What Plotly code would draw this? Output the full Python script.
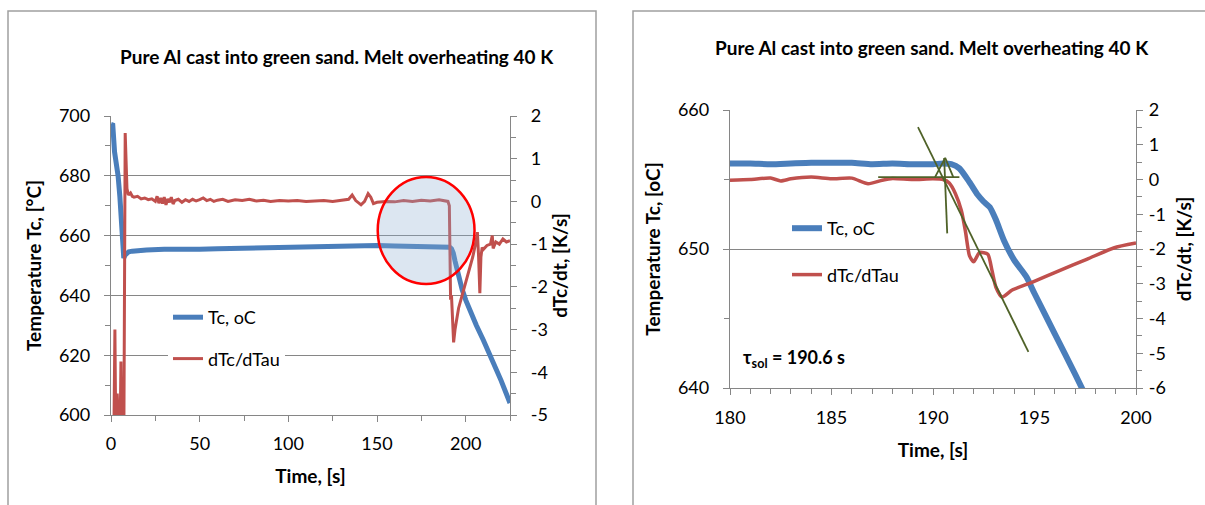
import plotly.graph_objects as go

W, H = 1205, 505

# ---------------- data: left chart (full cooling curve) ----------------
time_tc_full = [0, 1, 2, 3, 4, 5, 6, 6.6, 7.2, 8, 9, 10, 12, 15, 20, 30, 40, 50, 60, 80, 100,
                120, 140, 150, 160, 170, 180, 188, 190, 191, 192, 193, 194, 195, 196, 198,
                200, 203, 206, 210, 215, 220, 225]
tc_full = [697.2, 697.0, 688, 684, 680, 673, 664, 656, 652.5, 653.5, 654.3, 654.6, 654.8, 655.0,
           655.2, 655.4, 655.3, 655.4, 655.6, 655.9, 656.1, 656.3, 656.5, 656.7, 656.5, 656.4,
           656.3, 656.2, 656.2, 656.1, 655.6, 654.2, 651.5, 648.8, 646.2, 642.0, 638.5, 634.0,
           630.0, 625.0, 618.5, 611.5, 604.0]

time_rate_full = [0.5, 1.5, 2.2, 2.8, 3.5, 4.0, 5.0, 5.6, 6.2, 7.2, 8.0, 9.0, 9.8, 11, 12, 13, 15,
                  17, 19, 21, 23, 25, 26, 27, 28, 29, 30, 31, 32, 33, 34, 35, 36, 38, 40, 42, 44,
                  46, 48, 50, 52, 54, 56, 58, 60, 63, 66, 70, 74, 78, 82, 86, 90, 95, 100, 105,
                  110, 115, 120, 125, 130, 134, 136, 138, 141, 143, 145, 146.5, 148, 150, 155,
                  160, 165, 170, 175, 180, 185, 188, 190, 190.8, 191.2, 191.5, 192, 192.6, 193.2,
                  194, 196, 198, 200, 202, 204, 206, 206.6, 207.3, 208.0, 208.6, 209.3, 210, 212,
                  214, 215, 215.5, 217, 219, 221, 223, 225]
rate_full = [-6, -6, -3.0, -6, -4.5, -6, -6, -3.75, -6, -6, 1.6, 0.3, 0.15, 0.2, 0.12, 0.1, 0.12,
             0.06, 0.08, 0.04, 0.06, 0.0, 0.12, -0.04, 0.08, -0.05, 0.1, -0.08, 0.06, -0.02, 0.1,
             -0.06, 0.02, 0.05, -0.02, 0.04, 0.0, 0.05, 0.01, 0.04, 0.08, 0.02, 0.05, 0.0, 0.03,
             0.05, 0.0, 0.04, 0.02, 0.05, 0.01, 0.03, 0.0, 0.02, 0.01, 0.02, 0.0, 0.01, 0.02, 0.0,
             0.02, 0.05, 0.15, 0.02, -0.08, 0.0, 0.18, 0.1, -0.05, -0.02, 0.0, -0.01, 0.02, 0.0,
             0.03, 0.01, 0.04, 0.02, 0.0, -0.1, -1.5, -2.3, -2.2, -2.8, -3.3, -3.0, -2.5, -2.2,
             -1.9, -1.6, -1.3, -0.9, -0.72, -1.3, -2.15, -1.3, -1.08, -1.12, -1.03, -1.0, -0.8,
             -1.1, -0.95, -1.0, -0.88, -0.95, -0.92]

# ---------------- data: right chart (zoom 180-200 s) ----------------
time_tc_zoom = [180, 181, 182, 183, 184, 185, 186, 187, 188, 189, 190, 190.5, 190.9, 191.3, 191.8,
                192.2, 192.5, 192.8, 193.1, 193.5, 194.0, 194.6, 195.0, 196.0, 197.0, 197.6]
tc_zoom = [656.15, 656.15, 656.1, 656.15, 656.2, 656.2, 656.2, 656.1, 656.15, 656.1, 656.1,
           656.15, 656.1, 655.8, 654.8, 653.9, 653.4, 653.0, 652.1, 650.6, 649.2, 648.0, 646.8,
           643.9, 641.0, 639.2]

time_rate_zoom = [180, 181, 182, 182.5, 183, 184, 185, 186, 186.8, 187.5, 188, 189, 190, 190.5,
                  190.8, 191.1, 191.4, 191.6, 191.8, 192.0, 192.3, 192.7, 192.9, 193.1, 193.4,
                  193.9, 194.9, 196.2, 197.6, 198.9, 200]
rate_zoom = [-0.02, 0.0, 0.04, -0.04, 0.02, 0.07, 0.02, 0.04, -0.12, -0.02, 0.03, 0.0, 0.02, 0.0,
             -0.1, -0.4, -0.9, -1.5, -2.2, -2.37, -2.1, -2.15, -2.6, -3.1, -3.38, -3.18, -2.95,
             -2.63, -2.29, -1.97, -1.83]

# construction lines (tangent method) drawn by the author
tangent_t = [189.26, 194.7]
tangent_v = [1.51, -4.96]
base_t = [187.3, 191.3]
base_v = [0.07, 0.07]
vert_t = [190.55, 190.7]
vert_v = [0.62, -1.55]
arrow_t = [190.1, 190.6, 191.0]
arrow_v = [0.07, 0.62, 0.07]

# highlighted region on the left chart (time, temperature)
circle_t = [150.4, 205.0]
circle_tc = [643.8, 679.6]

# ticks
left_tc_ticks = [600, 620, 640, 660, 680, 700]
left_rate_ticks = [-5, -4, -3, -2, -1, 0, 1, 2]
right_tc_ticks = [640, 650, 660]
right_rate_ticks = [-6, -5, -4, -3, -2, -1, 0, 1, 2]

title_text = "Pure Al cast into green sand. Melt overheating 40 K"

BLUE = "#4A7EBB"
RED = "#C0504D"
GREEN = "#4F6228"
GRID = "#868686"
FONT = "Lato"


def px_x(p):
    return p / W


def px_y(p):
    return 1 - p / H


def lbl(v):
    return str(v).replace("\u2212", "-")


fig = go.Figure()

fig.add_trace(go.Scatter(x=time_tc_full, y=tc_full, mode="lines", name="Tc, oC",
                         line=dict(color=BLUE, width=5), xaxis="x", yaxis="y",
                         legend="legend", legendgroup="a"))
fig.add_trace(go.Scatter(x=time_rate_full, y=rate_full, mode="lines", name="dTc/dTau",
                         line=dict(color=RED, width=3), xaxis="x", yaxis="y2",
                         legend="legend", legendgroup="b"))

fig.add_trace(go.Scatter(x=time_tc_zoom, y=tc_zoom, mode="lines", name="Tc, oC",
                         line=dict(color=BLUE, width=6, shape="spline", smoothing=0.6),
                         xaxis="x2", yaxis="y3", legend="legend2", legendgroup="c"))
fig.add_trace(go.Scatter(x=time_rate_zoom, y=rate_zoom, mode="lines", name="dTc/dTau",
                         line=dict(color=RED, width=3.5, shape="spline", smoothing=0.6),
                         xaxis="x2", yaxis="y4", legend="legend2", legendgroup="d"))
for tt, vv in [(tangent_t, tangent_v), (base_t, base_v), (vert_t, vert_v), (arrow_t, arrow_v)]:
    fig.add_trace(go.Scatter(x=tt, y=vv, mode="lines", line=dict(color=GREEN, width=1.8),
                             xaxis="x2", yaxis="y4", showlegend=False, hoverinfo="skip"))

tickfont = dict(family=FONT, size=18, color="#000000")
titlefont = dict(family=FONT, size=19, color="#000000", weight="bold")
axis_common = dict(showline=True, linecolor=GRID, linewidth=1.3, ticks="outside", ticklen=6,
                   tickcolor=GRID, tickwidth=1.3, zeroline=False, tickfont=tickfont,
                   automargin=False, fixedrange=True)

fig.update_layout(
    width=W, height=H,
    margin=dict(l=0, r=0, t=0, b=0),
    paper_bgcolor="white", plot_bgcolor="white",
    font=dict(family=FONT, color="#000000"),
    xaxis=dict(domain=[px_x(111), px_x(510)], range=[0, 225], anchor="y",
               tickmode="array", tickvals=[0, 50, 100, 150, 200],
               ticktext=["0", "50", "100", "150", "200"],
               minor=dict(tickvals=[25, 75, 125, 175, 225], ticks="outside", ticklen=5,
                          tickcolor=GRID),
               showgrid=False, ticklabelstandoff=6,
               title=dict(text="Time, [s]", font=titlefont, standoff=16), **axis_common),
    yaxis=dict(domain=[px_y(415), px_y(116)], range=[600, 700], anchor="x",
               tickmode="array", tickvals=left_tc_ticks, ticktext=[lbl(v) for v in left_tc_ticks],
               minor=dict(dtick=10, ticks="outside", ticklen=5, tickcolor=GRID),
               showgrid=True, gridcolor=GRID, gridwidth=1.3, ticklabelstandoff=10,
               title=dict(text="Temperature Tc, [°C]", font=titlefont, standoff=12),
               **axis_common),
    yaxis2=dict(overlaying="y", side="right", range=[-5, 2], anchor="x",
                tickmode="array", tickvals=left_rate_ticks,
                ticktext=[lbl(v) for v in left_rate_ticks],
                minor=dict(dtick=0.5, ticks="outside", ticklen=5, tickcolor=GRID),
                showgrid=False, ticklabelstandoff=10,
                title=dict(text="dTc/dt, [K/s]", font=titlefont, standoff=2), **axis_common),
    xaxis2=dict(domain=[px_x(730), px_x(1136)], range=[180, 200], anchor="y3",
                tickmode="array", tickvals=[180, 185, 190, 195, 200],
                ticktext=["180", "185", "190", "195", "200"],
                minor=dict(dtick=1, ticks="outside", ticklen=5, tickcolor=GRID),
                showgrid=False, ticklabelstandoff=7,
                title=dict(text="Time, [s]", font=titlefont, standoff=16), **axis_common),
    yaxis3=dict(domain=[px_y(388), px_y(110)], range=[640, 660], anchor="x2",
                tickmode="array", tickvals=right_tc_ticks, ticktext=[lbl(v) for v in right_tc_ticks],
                minor=dict(dtick=5, ticks="outside", ticklen=5, tickcolor=GRID),
                showgrid=True, gridcolor=GRID, gridwidth=1.3, ticklabelstandoff=10,
                title=dict(text="Temperature Tc, [oC]", font=titlefont, standoff=12),
                **axis_common),
    yaxis4=dict(overlaying="y3", side="right", range=[-6, 2], anchor="x2",
                tickmode="array", tickvals=right_rate_ticks,
                ticktext=[lbl(v) for v in right_rate_ticks],
                minor=dict(dtick=0.5, ticks="outside", ticklen=5, tickcolor=GRID),
                showgrid=False, ticklabelstandoff=2,
                title=dict(text="dTc/dt, [K/s]", font=titlefont, standoff=12), **axis_common),
    legend=dict(x=px_x(168), y=px_y(299), xanchor="left", yanchor="top",
                bgcolor="white", borderwidth=0, tracegroupgap=15,
                font=dict(family=FONT, size=18, color="#000000")),
    legend2=dict(x=px_x(787), y=px_y(210), xanchor="left", yanchor="top",
                 bgcolor="rgba(0,0,0,0)", borderwidth=0, tracegroupgap=20,
                 font=dict(family=FONT, size=18, color="#000000")),
    showlegend=True,
)

# highlight ellipse on the left chart
fig.add_shape(type="circle", xref="x", yref="y", x0=circle_t[0], x1=circle_t[1],
              y0=circle_tc[0], y1=circle_tc[1], layer="above",
              fillcolor="rgba(138,172,208,0.3)", line=dict(color="#FF0000", width=2.5))

# chart-area borders
fig.add_shape(type="rect", xref="paper", yref="paper", x0=px_x(8), x1=px_x(596),
              y0=-0.1, y1=px_y(11), line=dict(color="#A0A0A0", width=1.5), layer="below")
fig.add_shape(type="rect", xref="paper", yref="paper", x0=px_x(633), x1=1.1,
              y0=-0.1, y1=px_y(11), line=dict(color="#A0A0A0", width=1.5), layer="below")

# chart titles
fig.add_annotation(text=title_text, xref="paper", yref="paper", x=px_x(337), y=px_y(57),
                   showarrow=False, xanchor="center", yanchor="middle",
                   font=dict(family=FONT, size=19, color="#000000", weight="bold"))
fig.add_annotation(text=title_text, xref="paper", yref="paper", x=px_x(932), y=px_y(48),
                   showarrow=False, xanchor="center", yanchor="middle",
                   font=dict(family=FONT, size=19, color="#000000", weight="bold"))

# solidification time label
fig.add_annotation(text="τ<sub>sol</sub> = 190.6 s", xref="paper", yref="paper",
                   x=px_x(741), y=px_y(358), showarrow=False, xanchor="left", yanchor="middle",
                   font=dict(family=FONT, size=18, color="#000000", weight="bold"))

fig.write_html("out.html", config={"displayModeBar": False},
               post_script="document.body.style.margin='0px';")
